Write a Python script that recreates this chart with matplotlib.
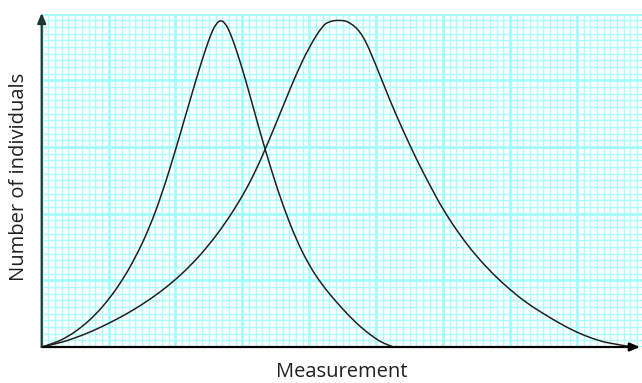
import numpy as np
import matplotlib
matplotlib.use("Agg")
import matplotlib.pyplot as plt
from matplotlib.path import Path
from matplotlib.patches import PathPatch

# curves (x in big squares, y in big squares)
narrow_x = [0.0, 0.2, 0.4, 0.6, 0.8, 1.0, 1.2, 1.4, 1.6, 1.8, 2.0, 2.142,
            2.317, 2.441, 2.541, 2.61, 2.678, 2.746, 2.815, 2.915, 3.039,
            3.188, 3.3, 3.45, 3.6, 3.8, 4.0, 4.2, 4.4, 4.6, 4.8, 5.0, 5.1,
            5.256]
narrow_y = [0.0, 0.06, 0.16, 0.30, 0.48, 0.71, 0.99, 1.34, 1.76, 2.30, 2.95,
            3.44, 4.04, 4.44, 4.72, 4.85, 4.905, 4.85, 4.72, 4.44, 4.04,
            3.50, 3.10, 2.60, 2.14, 1.62, 1.22, 0.92, 0.68, 0.46, 0.27, 0.12,
            0.06, 0.0]

wide_x = [0.0, 0.25, 0.5, 0.75, 1.0, 1.25, 1.5, 1.75, 2.0, 2.25, 2.5, 2.75,
          3.0, 3.2, 3.4, 3.6, 3.8, 4.0, 4.2, 4.3, 4.434, 4.6, 4.8, 5.0, 5.2,
          5.4, 5.6, 5.8, 6.0, 6.25, 6.5, 6.75, 7.0, 7.25, 7.5, 7.75, 8.0,
          8.25, 8.5, 8.843]
wide_y = [0.0, 0.055, 0.135, 0.235, 0.353, 0.485, 0.635, 0.808, 1.008, 1.245,
          1.528, 1.863, 2.258, 2.64, 3.10, 3.59, 4.08, 4.50, 4.82, 4.88,
          4.903, 4.88, 4.69, 4.22, 3.71, 3.25, 2.82, 2.43, 2.06, 1.68, 1.36,
          1.09, 0.86, 0.66, 0.50, 0.35, 0.22, 0.12, 0.05, 0.0]

x_label = "Measurement"
y_label = "Number of individuals"

grid_major = "#a4fdfd"
grid_minor = "#acfdfd"
axis_col = "#1e3535"
ink = "#231f20"

plt.rcParams['font.family'] = ['Open Sans', 'DejaVu Sans']

fig = plt.figure(figsize=(6.42, 3.83), dpi=100)
ax = fig.add_axes([41.7 / 642, 36 / 383, 602 / 642, 333.5 / 383])
ax.set_xlim(0, 9)
ax.set_ylim(0, 5)

ax.set_xticks(np.arange(0, 10, 1))
ax.set_yticks(np.arange(0, 6, 1))
ax.set_xticks(np.arange(0, 9.01, 0.1), minor=True)
ax.set_yticks(np.arange(0, 5.01, 0.1), minor=True)
ax.grid(which='minor', color=grid_minor, lw=1.0)
ax.grid(which='major', color=grid_major, lw=2.0)
ax.tick_params(which='both', length=0, labelbottom=False, labelleft=False)
for s in ax.spines.values():
    s.set_visible(False)
ax.set_axisbelow(True)


def smooth(xs, ys):
    # quadratic bezier through the midpoints of the read points
    pts = list(zip(xs, ys))
    verts = [pts[0]]
    codes = [Path.MOVETO]
    for i in range(1, len(pts) - 1):
        mid = ((pts[i][0] + pts[i + 1][0]) / 2, (pts[i][1] + pts[i + 1][1]) / 2)
        if i == len(pts) - 2:
            mid = pts[-1]
        verts += [pts[i], mid]
        codes += [Path.CURVE3, Path.CURVE3]
    return Path(verts, codes)


for xs, ys in [(narrow_x, narrow_y), (wide_x, wide_y)]:
    ax.add_patch(PathPatch(smooth(xs, ys), facecolor='none', edgecolor=ink,
                           lw=1.1, zorder=3, clip_on=False))

# axes with arrow heads
ax.annotate('', xy=(8.945, 0), xytext=(0, 0), annotation_clip=False,
            arrowprops=dict(arrowstyle='-|>,head_length=0.6,head_width=0.25',
                            color='black', lw=1.6, shrinkA=0, shrinkB=0))
ax.annotate('', xy=(0, 5.01), xytext=(0, 0), annotation_clip=False,
            arrowprops=dict(arrowstyle='-|>,head_length=0.6,head_width=0.25',
                            color=axis_col, lw=1.6, shrinkA=0, shrinkB=0))

fig.text(342 / 642, 1 - 372 / 383, x_label, ha='center', va='center',
         fontsize=14.5, color=ink)
fig.text(19 / 642, 1 - 177 / 383, y_label, ha='center', va='center',
         rotation=90, fontsize=14.5, color=ink)

fig.savefig("out.png", dpi=100)
